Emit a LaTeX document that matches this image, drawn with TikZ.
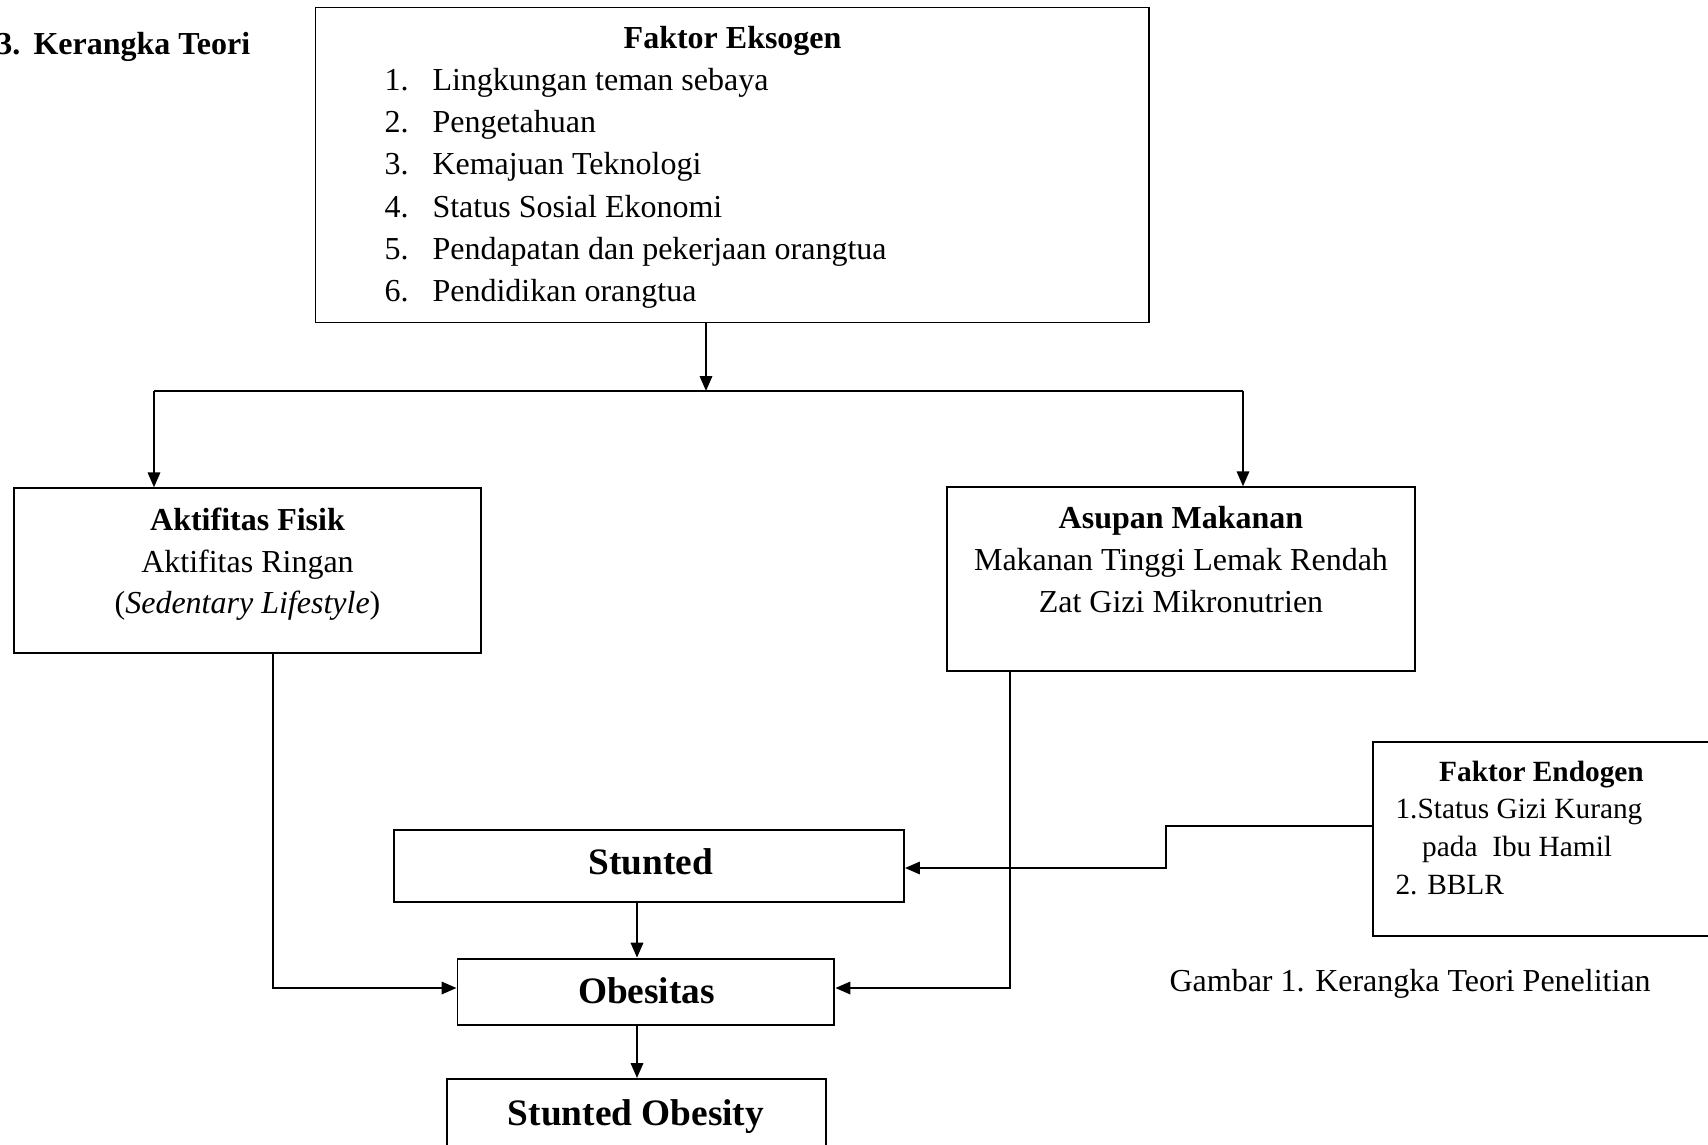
\documentclass[tikz,border=0pt]{standalone}
\usepackage{fontspec}
\setmainfont{Liberation Serif}
\usetikzlibrary{arrows.meta,fit}

\begin{document}
\begin{tikzpicture}[x=0.375pt,y=-0.375pt,
    box/.style={draw,line width=0.7pt,inner sep=0pt},
    txt/.style={inner sep=0pt,anchor=base,font=\fontsize{12}{14}\selectfont},
    kecil/.style={inner sep=0pt,anchor=base,font=\fontsize{11}{13}\selectfont},
    besar/.style={inner sep=0pt,anchor=base,font=\fontsize{14}{17}\selectfont\bfseries},
    ln/.style={line width=0.9pt},
    arr/.style={line width=0.9pt,-{Triangle[length=5.6pt,width=4.6pt]}}]
  \useasboundingbox (0,0) rectangle (1708,1144);
  \clip (0,0) rectangle (1708,1144);

  \node[txt,anchor=base east] (no) at (21,54) {\bfseries 3.};
  \node[txt,anchor=base west] (judul) at (33,54) {\bfseries Kerangka Teori};

  % faktor eksogen
  \node[box,fit={(315.5,7.5) (1149,322.5)}] (eks) {};
  \node[txt] (eks-t) at (732.6,48.5) {\bfseries Faktor Eksogen};
  \foreach \i/\t in {1/Lingkungan teman sebaya,2/Pengetahuan,3/Kemajuan Teknologi,
      4/Status Sosial Ekonomi,5/Pendapatan dan pekerjaan orangtua,6/Pendidikan orangtua}{
    \node[txt,anchor=base west] (nr\i) at (384,{90.5+42.2*(\i-1)}) {\i.};
    \node[txt,anchor=base west] (it\i) at (432,{90.5+42.2*(\i-1)}) {\t};
  }

  \node[box,fit={(14,488.3) (481,653)}] (akt) {};
  \node[txt] (akt-t) at (247.5,530) {\bfseries Aktifitas Fisik};
  \node[txt] (akt-a) at (247.5,572) {Aktifitas Ringan};
  \node[txt] (akt-b) at (247.5,613) {(\textit{Sedentary Lifestyle})};

  \node[box,fit={(947.3,487.3) (1415,671)}] (asu) {};
  \node[txt] (asu-t) at (1181,528) {\bfseries Asupan Makanan};
  \node[txt] (asu-a) at (1181,570) {Makanan Tinggi Lemak Rendah};
  \node[txt] (asu-b) at (1181,612) {Zat Gizi Mikronutrien};

  % faktor endogen
  \node[box,fit={(1372.7,742.3) (1730,935.7)}] (endo) {};
  \node[kecil] (endo-t) at (1541.5,781.7) {\bfseries Faktor Endogen};
  \node[kecil,anchor=base west] (endo-a) at (1395,818) {1.Status Gizi Kurang};
  \node[kecil,anchor=base west] (endo-b) at (1421.7,856.5) {pada~~Ibu Hamil};
  \node[kecil,anchor=base west] (endo-c) at (1395,894) {2. BBLR};

  \node[box,fit={(394.3,830) (904,902)}] (stu) {};
  \node[besar] (stu-t) at (651,874) {Stunted};
  \node[box,fit={(457.5,958.6) (834.4,1025)}] (obs) {};
  \node[besar] (obs-t) at (646.5,1003) {Obesitas};
  \node[box,fit={(447,1079) (826,1170)}] (so) {};
  \node[besar] (so-t) at (636,1125) {Stunted Obesity};

  \node[txt,anchor=base west] (ket) at (1169,991) {Gambar 1. Kerangka Teori Penelitian};

  \coordinate (cab) at (706,391);
  \coordinate (kiri) at (154,391);
  \coordinate (kanan) at (1243,391);
  \draw[arr] (eks.south -| cab) -- (cab);
  \draw[ln] (kiri) -- (kanan);
  \draw[arr] (kiri) -- (kiri |- akt.north);
  \draw[arr] (kanan) -- (kanan |- asu.north);

  \draw[arr] (akt.south -| 273,0) |- (obs.west |- 0,988);
  \draw[arr] (asu.south -| 1010,0) |- (obs.east |- 0,988);
  \draw[arr] (stu.south -| 637,0) -- (obs.north -| 637,0);
  \draw[arr] (obs.south -| 637,0) -- (so.north -| 637,0);
  \draw[arr] (endo.west |- 0,826) -| (1166,868) -- (stu.east |- 0,868);
\end{tikzpicture}
\end{document}
